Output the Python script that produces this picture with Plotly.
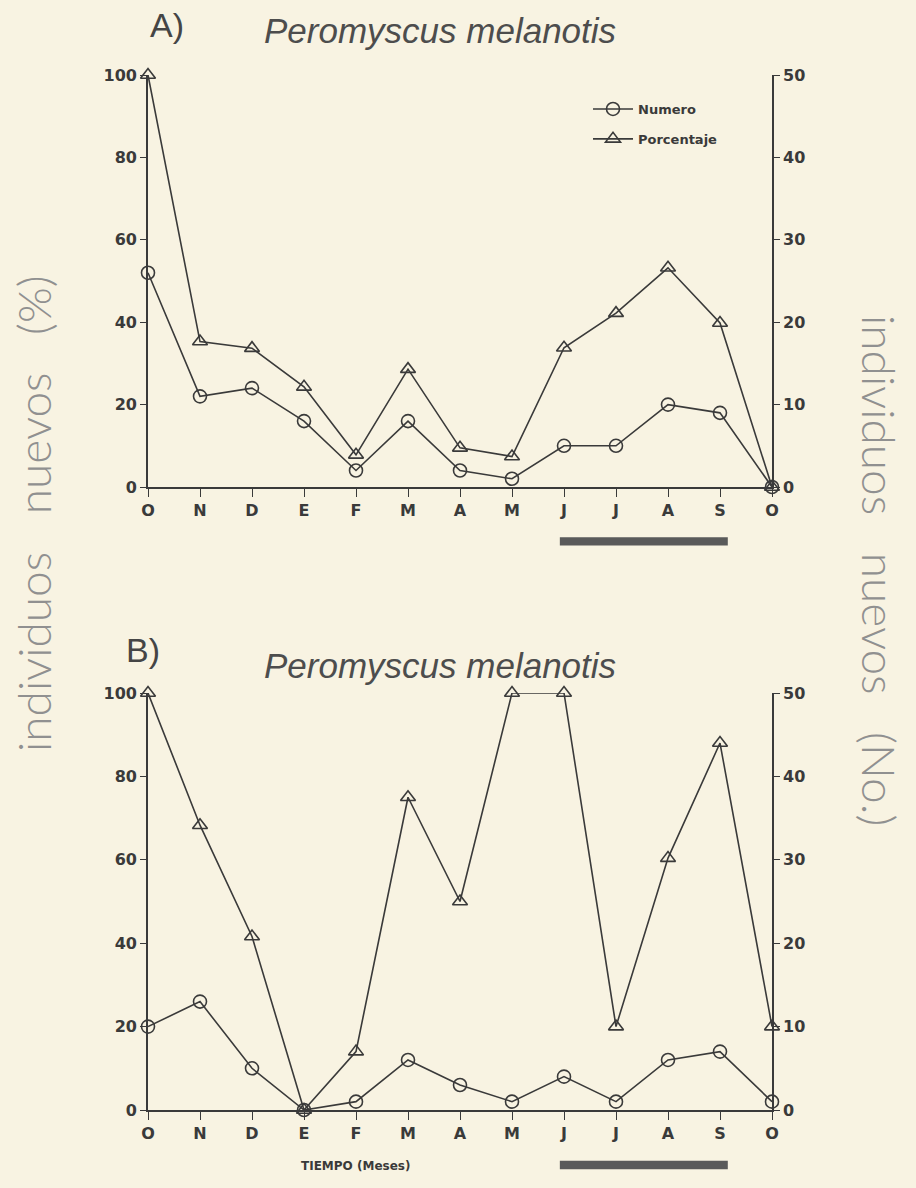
import plotly.graph_objects as go

# ---------------- data ----------------
months = ["O", "N", "D", "E", "F", "M", "A", "M", "J", "J", "A", "S", "O"]
month_idx = list(range(len(months)))

a_numero = [26, 11, 12, 8, 2, 8, 2, 1, 5, 5, 10, 9, 0]
a_porcentaje = [100, 35.3, 33.7, 24.3, 7.8, 28.6, 9.5, 7.4, 33.8, 42.2, 53.2, 39.8, 0]

b_numero = [10, 13, 5, 0, 1, 6, 3, 1, 4, 1, 6, 7, 1]
b_porcentaje = [100, 68.3, 41.6, 0, 14, 75, 50, 100, 100, 20, 60.4, 88, 20]

pct_ticks = [0, 20, 40, 60, 80, 100]
num_ticks = [0, 10, 20, 30, 40, 50]

title_text = "Peromyscus melanotis"
legend_names = ["Numero", "Porcentaje"]

# ---------------- style ----------------
W, H = 916, 1188
L, R, T, B = 148, 144, 75, 78
INK = "#3a3a3a"
BG = "#f8f3e2"


def px2x(px):
    return (px - L) / (W - L - R)


def py2y(py):
    return (H - B - py) / (H - T - B)


line_style = dict(color=INK, width=1.6)
circle = dict(symbol="circle-open", size=13, color=INK, line=dict(width=1.6, color=INK))
tri = dict(symbol="triangle-up-open", size=13, color=INK, line=dict(width=1.6, color=INK))

fig = go.Figure()

# Panel A
fig.add_trace(go.Scatter(x=month_idx, y=a_numero, mode="lines+markers", name=legend_names[0],
                         line=line_style, marker=circle, xaxis="x", yaxis="y2",
                         cliponaxis=False, legendgroup="n"))
fig.add_trace(go.Scatter(x=month_idx, y=a_porcentaje, mode="lines+markers", name=legend_names[1],
                         line=line_style, marker=tri, xaxis="x", yaxis="y",
                         cliponaxis=False, legendgroup="p"))
# Panel B
fig.add_trace(go.Scatter(x=month_idx, y=b_numero, mode="lines+markers", name=legend_names[0],
                         line=line_style, marker=circle, xaxis="x2", yaxis="y4",
                         cliponaxis=False, showlegend=False))
fig.add_trace(go.Scatter(x=month_idx, y=b_porcentaje, mode="lines+markers", name=legend_names[1],
                         line=line_style, marker=tri, xaxis="x2", yaxis="y3",
                         cliponaxis=False, showlegend=False))

TICKFAM = "DejaVu Sans"
tickfont = dict(family=TICKFAM, size=16, color=INK, weight="bold")
xtickfont = dict(family=TICKFAM, size=16, color=INK, weight="bold")

common_x = dict(range=[0, 12], tickmode="array", tickvals=month_idx, ticktext=months,
                showline=True, linecolor=INK, linewidth=1.6, ticks="outside", ticklen=8,
                tickwidth=1.4, tickcolor=INK, showgrid=False, zeroline=False,
                tickfont=xtickfont, fixedrange=True)
left_y = dict(range=[0, 100], tickmode="array", tickvals=pct_ticks, showline=True,
              linecolor=INK, linewidth=1.6, ticks="outside", ticklen=6, tickwidth=1.4,
              tickcolor=INK, showgrid=False, zeroline=False, tickfont=tickfont)
right_y = dict(range=[0, 50], tickmode="array", tickvals=num_ticks, showline=True,
               linecolor=INK, linewidth=1.6, ticks="outside", ticklen=6, tickwidth=1.4,
               tickcolor=INK, showgrid=False, zeroline=False, tickfont=tickfont, side="right")

domA = [py2y(487), 1.0]
domB = [0.0, py2y(693)]

fig.update_layout(
    width=W, height=H,
    margin=dict(l=L, r=R, t=T, b=B),
    paper_bgcolor=BG, plot_bgcolor="rgba(0,0,0,0)",
    xaxis=dict(common_x, domain=[0, 1], anchor="y"),
    yaxis=dict(left_y, domain=domA, anchor="x"),
    yaxis2=dict(right_y, domain=domA, anchor="x", overlaying="y"),
    xaxis2=dict(common_x, domain=[0, 1], anchor="y3"),
    yaxis3=dict(left_y, domain=domB, anchor="x2"),
    yaxis4=dict(right_y, domain=domB, anchor="x2", overlaying="y3"),
    legend=dict(x=px2x(588), y=py2y(94), xanchor="left", yanchor="top",
                bgcolor="rgba(0,0,0,0)",
                font=dict(family="DejaVu Sans", size=13, color=INK, weight="bold"),
                tracegroupgap=10, itemwidth=40),
    showlegend=True,
)

ann_common = dict(xref="paper", yref="paper", showarrow=False, xanchor="center", yanchor="middle")
SP = "&nbsp;" * 3
annotations = [
    dict(ann_common, x=px2x(167), y=py2y(25), text="A)",
         font=dict(family="Arial", size=34, color="#454545")),
    dict(ann_common, x=px2x(143), y=py2y(650), text="B)",
         font=dict(family="Arial", size=34, color="#454545")),
    dict(ann_common, x=px2x(440), y=py2y(30), text="<i>" + title_text + "</i>",
         font=dict(family="Arial", size=35, color="#4d4d4d")),
    dict(ann_common, x=px2x(440), y=py2y(665), text="<i>" + title_text + "</i>",
         font=dict(family="Arial", size=35, color="#4d4d4d")),
    dict(ann_common, x=px2x(355), y=py2y(1166), text="TIEMPO (Meses)",
         font=dict(family="DejaVu Sans", size=12, color=INK, weight="bold")),
    dict(ann_common, x=px2x(33), y=py2y(514), text="individuos" + SP + "nuevos" + SP + "(%)",
         textangle=-90, font=dict(family="Lato", size=46, color="#909090", weight=300)),
    dict(ann_common, x=px2x(880), y=py2y(570), text="individuos" + SP + "nuevos" + SP + "(No.)",
         textangle=90, font=dict(family="Lato", size=46, color="#909090", weight=300)),
]
fig.update_layout(annotations=annotations)

# summer-season bars below each x axis
for xr, yr in (("x", "y domain"), ("x2", "y3 domain")):
    fig.add_shape(type="rect", xref=xr, yref=yr, x0=7.92, x1=11.15, y0=-0.142, y1=-0.122,
                  fillcolor="#5a5a5a", line=dict(width=0))

fig.write_html(
    "out.html",
    config={"displayModeBar": False},
    post_script="document.body.style.margin='0';document.body.style.background='" + BG + "';",
)
